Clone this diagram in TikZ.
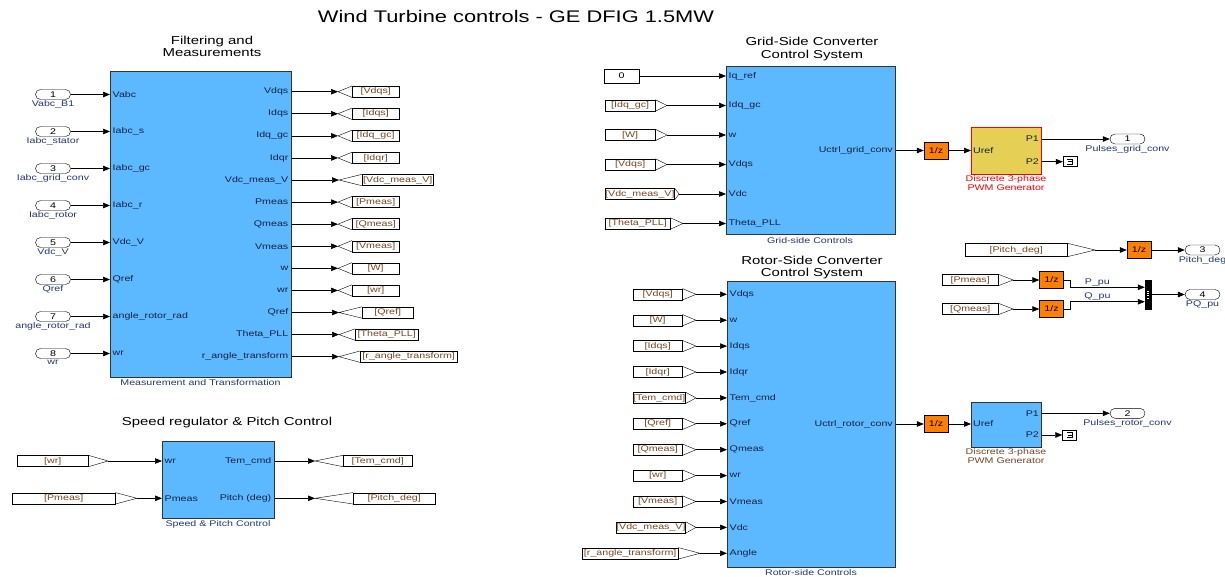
\documentclass[tikz,border=0pt]{standalone}
\usepackage{fontspec}
\newfontfamily\simfont{Liberation Sans}[FakeStretch=1.3]
\usetikzlibrary{arrows.meta,positioning}
\definecolor{simblue}{RGB}{92,184,255}
\definecolor{delayorange}{RGB}{255,128,0}
\definecolor{pwmyellow}{RGB}{229,207,84}
\definecolor{lblblue}{RGB}{35,55,115}
\definecolor{tagbrown}{RGB}{120,70,35}
\newcommand\sigfont{\simfont\fontsize{8.2}{9}\selectfont}
\newcommand\headfont{\simfont\fontsize{11.5}{12.5}\selectfont}

\tikzset{
  blk/.style={draw=black!80, fill=simblue, line width=0.8pt, anchor=north west, inner sep=0pt},
  sig/.style={-{Triangle[length=7pt,width=5.5pt]}, line width=0.65pt},
  inport/.style={draw, rounded corners=5pt, minimum width=35, minimum height=10, inner sep=0pt, font=\sigfont},
  portlbl/.style={inner sep=0pt, font=\sigfont, text=lblblue},
  portname/.style={inner sep=0pt, font=\sigfont, text=lblblue!60!black},
  tagbox/.style={draw, minimum height=11, inner sep=0pt, font=\sigfont, text=tagbrown},
  delay/.style={draw, fill=delayorange, minimum width=24, minimum height=17, inner sep=0pt, font=\sigfont},
  termbox/.style={draw, fill=white, minimum width=14, minimum height=10, inner sep=0pt,
    path picture={\draw[line width=0.5pt, shift={(path picture bounding box.center)}]
      (-3pt,2.5pt) -- (2.5pt,2.5pt) -- (2.5pt,-2.5pt) -- (-3pt,-2.5pt) (-2pt,0pt) -- (2.5pt,0pt);}},
  muxbar/.style={draw, fill=black, minimum width=6, minimum height=29, inner sep=0pt,
    path picture={\draw[white, line width=2pt, dash pattern=on 0.8pt off 1.6pt]
      ([yshift=-4pt]path picture bounding box.center) -- ([yshift=4pt]path picture bounding box.center);}},
  head/.style={align=center, font=\headfont},
}

\begin{document}
\begin{tikzpicture}[x=1pt, y=-1pt]
  \useasboundingbox (0,0) rectangle (1225,577);
  \clip (0,0) rectangle (1225,577);

  % Title
  \node[font=\simfont\fontsize{16.8}{18}\selectfont] (title) at (516,16) {Wind Turbine controls - GE DFIG 1.5MW};

  % Filtering and measurements
  \node[head] (meastitle) at (212,46.5) {Filtering and\\Measurements};
  \node[blk, minimum width=181, minimum height=306] (meas) at (110,71) {};
  \node[portlbl] (measname) at (200.5,383) {Measurement and Transformation};

  \foreach \lab/\port [count=\k] in {Vabc\_B1/Vabc, Iabc\_stator/Iabc\_s, Iabc\_grid\_conv/Iabc\_gc,
      Iabc\_rotor/Iabc\_r, Vdc\_V/Vdc\_V, Qref/Qref, angle\_rotor\_rad/angle\_rotor\_rad, wr/wr}{
    \pgfmathsetmacro\yy{94.5+37*(\k-1)}
    \node[inport] (min\k) at (53,\yy) {\k};
    \node[portlbl, below=1pt of min\k] {\lab};
    \node[portname, anchor=west] at (112.5,\yy) {\port};
    \draw[sig] (min\k) -- (min\k -| meas.west);
  }

  \foreach \port/\tg/\tip/\rl/\rr [count=\k] in {Vdqs/Vdqs/338/352/399, Idqs/Idqs/338/352/399,
      Idq\_gc/Idq\_gc/338/352/399, Idqr/Idqr/338/352/399, Vdc\_meas\_V/Vdc\_meas\_V/339/362/433,
      Pmeas/Pmeas/338/352/399, Qmeas/Qmeas/338/352/399, Vmeas/Vmeas/338/352/399, w/W/338/352/399,
      wr/wr/338/352/399, Qref/Qref/339/362/413, Theta\_PLL/Theta\_PLL/339/355/418,
      r\_angle\_transform/r\_angle\_transform/339/360/457}{
    \pgfmathsetmacro\yy{91.7+22.08*(\k-1)}
    \node[portname, anchor=east] (mo\k) at (288.5,\yy) {\port};
    \coordinate (mt\k) at (\tip,\yy);
    \node[tagbox, minimum width={\rr-\rl}, anchor=west] (mg\k) at (\rl,\yy) {[\tg]};
    \draw (mg\k.north west) -- (mt\k) -- (mg\k.south west);
    \draw[sig] (mt\k -| meas.east) -- (mt\k);
  }

  % Speed regulator
  \node[head] (spdtitle) at (227,423) {Speed regulator \& Pitch Control};
  \node[blk, minimum width=112, minimum height=77] (spd) at (162,441) {};
  \node[portlbl] (spdname) at (218,524) {Speed \& Pitch Control};
  \node[portname, anchor=west] at (164.5,461) {wr};
  \node[portname, anchor=west] at (164.5,498.3) {Pmeas};
  \node[portname, anchor=east] at (271.5,461) {Tem\_cmd};
  \node[portname, anchor=east] at (271.5,498.3) {Pitch (deg)};

  \node[tagbox, minimum width=71, anchor=west] (wrf) at (17,461) {[wr]};
  \coordinate (wrp) at (108,461);
  \draw (wrf.north east) -- (wrp) -- (wrf.south east);
  \draw[sig] (wrp) -- (wrp -| spd.west);
  \node[tagbox, minimum width=103, anchor=west] (pmsf) at (12,498.3) {[Pmeas]};
  \coordinate (pmsp) at (137,498.3);
  \draw (pmsf.north east) -- (pmsp) -- (pmsf.south east);
  \draw[sig] (pmsp) -- (pmsp -| spd.west);

  \coordinate (tct) at (315,461);
  \node[tagbox, minimum width=69, anchor=west] (tcg) at (343,461) {[Tem\_cmd]};
  \draw (tcg.north west) -- (tct) -- (tcg.south west);
  \draw[sig] (tct -| spd.east) -- (tct);
  \coordinate (pdt) at (315,498.3);
  \node[tagbox, minimum width=82, anchor=west] (pdg) at (353,498.3) {[Pitch\_deg]};
  \draw (pdg.north west) -- (pdt) -- (pdg.south west);
  \draw[sig] (pdt -| spd.east) -- (pdt);

  % Grid-side converter
  \node[head] (gridtitle) at (812,49) {Grid-Side Converter\\Control System};
  \node[blk, minimum width=169, minimum height=168] (grid) at (726,66) {};
  \node[portlbl] (gridname) at (810,241) {Grid-side Controls};
  \foreach \port [count=\k] in {Iq\_ref, Idq\_gc, w, Vdqs, Vdc, Theta\_PLL}{
    \pgfmathsetmacro\yy{76+29.5*(\k-1)}
    \node[portname, anchor=west] (gi\k) at (728.5,\yy) {\port};
  }
  \node[draw, minimum width=35, minimum height=14, inner sep=0pt, font=\sigfont] (zero) at (621.5,76) {0};
  \draw[sig] (zero) -- (zero -| grid.west);
  \foreach \tg/\rl/\rr/\tip [count=\k from 2] in {Idq\_gc/605/655/667, W/605/655/667, Vdqs/605/655/667,
      Vdc\_meas\_V/605/674/679, Theta\_PLL/605/670/683}{
    \pgfmathsetmacro\yy{76+29.5*(\k-1)}
    \node[tagbox, minimum width={\rr-\rl}, anchor=west] (gf\k) at (\rl,\yy) {[\tg]};
    \coordinate (gp\k) at (\tip,\yy);
    \draw (gf\k.north east) -- (gp\k) -- (gf\k.south east);
    \draw[sig] (gp\k) -- (gp\k -| grid.west);
  }
  \node[portname, anchor=east] (gu) at (893,150.5) {Uctrl\_grid\_conv};
  \node[delay] (gz) at (936,150.5) {1/z};
  \draw[sig] (gz -| grid.east) -- (gz);

  \node[blk, fill=pwmyellow, draw=red, minimum width=70, minimum height=47] (pwm1) at (971,127) {};
  \node[portname, anchor=west] at (973,150.5) {Uref};
  \node[portname, anchor=east] at (1039,139) {P1};
  \node[portname, anchor=east] at (1039,161.7) {P2};
  \node[portlbl, text=red, align=center] (pwm1name) at (1006,183.5) {Discrete 3-phase\\PWM Generator};
  \draw[sig] (gz) -- (gz -| pwm1.west);
  \node[inport] (pg) at (1127.5,139) {1};
  \node[portlbl, below=1pt of pg] {Pulses\_grid\_conv};
  \draw[sig] (pg -| pwm1.east) -- (pg);
  \node[termbox] (tg) at (1070,161.7) {};
  \draw[sig] (tg -| pwm1.east) -- (tg);

  % Pitch and PQ outputs
  \node[tagbox, minimum width=102, minimum height=13, anchor=west] (pf) at (965,250) {[Pitch\_deg]};
  \coordinate (pp) at (1095,250);
  \draw (pf.north east) -- (pp) -- (pf.south east);
  \node[delay] (pz) at (1139,250) {1/z};
  \draw[sig] (pp) -- (pz);
  \node[inport] (po) at (1202.5,250) {3};
  \node[portlbl, below=1pt of po] {Pitch\_deg};
  \draw[sig] (pz) -- (po);

  \node[tagbox, minimum width=56, anchor=west] (pmf) at (942,280) {[Pmeas]};
  \coordinate (pmp) at (1013,280);
  \draw (pmf.north east) -- (pmp) -- (pmf.south east);
  \node[delay] (pmz) at (1051.5,280) {1/z};
  \draw[sig] (pmp) -- (pmz);
  \node[tagbox, minimum width=56, anchor=west] (qmf) at (942,309) {[Qmeas]};
  \coordinate (qmp) at (1013,309);
  \draw (qmf.north east) -- (qmp) -- (qmf.south east);
  \node[delay] (qmz) at (1051.5,309) {1/z};
  \draw[sig] (qmp) -- (qmz);

  \node[muxbar] (mux) at (1148,294.5) {};
  \draw[sig] (pmz.east) -- ++(7,0) |- ([yshift=7.25pt]mux.west) node[portlbl, pos=0.68, above=1pt] {P\_pu};
  \draw[sig] (qmz.east) -- ++(7,0) |- ([yshift=-7.25pt]mux.west) node[portlbl, pos=0.68, above=1pt] {Q\_pu};
  \node[inport] (pq) at (1202.5,294.5) {4};
  \node[portlbl, below=1pt of pq] {PQ\_pu};
  \draw[sig] (mux) -- (pq);

  % Rotor-side converter
  \node[head] (rotortitle) at (812,267.5) {Rotor-Side Converter\\Control System};
  \node[blk, minimum width=168, minimum height=286] (rotor) at (727,281) {};
  \node[portlbl] (rotorname) at (811,573) {Rotor-side Controls};
  \foreach \port/\tg/\rl/\rr/\tip [count=\k] in {Vdqs/Vdqs/633/682/696, w/W/633/682/696,
      Idqs/Idqs/633/682/696, Idqr/Idqr/633/682/696, Tem\_cmd/Tem\_cmd/633/684/696,
      Qref/Qref/633/682/696, Qmeas/Qmeas/633/682/696, wr/wr/633/682/696, Vmeas/Vmeas/633/682/696,
      Vdc/Vdc\_meas\_V/616/685/696, Angle/r\_angle\_transform/582/678/700}{
    \pgfmathsetmacro\yy{294.3+25.9*(\k-1)}
    \node[portname, anchor=west] (ri\k) at (729.5,\yy) {\port};
    \node[tagbox, minimum width={\rr-\rl}, anchor=west] (rf\k) at (\rl,\yy) {[\tg]};
    \coordinate (rp\k) at (\tip,\yy);
    \draw (rf\k.north east) -- (rp\k) -- (rf\k.south east);
    \draw[sig] (rp\k) -- (rp\k -| rotor.west);
  }
  \node[portname, anchor=east] (ru) at (893,424) {Uctrl\_rotor\_conv};
  \node[delay] (rz) at (936,424) {1/z};
  \draw[sig] (rz -| rotor.east) -- (rz);

  \node[blk, minimum width=70, minimum height=45] (pwm2) at (971,402) {};
  \node[portname, anchor=west] at (973,424) {Uref};
  \node[portname, anchor=east] at (1039,413.3) {P1};
  \node[portname, anchor=east] at (1039,435) {P2};
  \node[portlbl, text=tagbrown, align=center] (pwm2name) at (1006,456) {Discrete 3-phase\\PWM Generator};
  \draw[sig] (rz) -- (rz -| pwm2.west);
  \node[inport] (pr) at (1127.5,413.3) {2};
  \node[portlbl, below=1pt of pr] {Pulses\_rotor\_conv};
  \draw[sig] (pr -| pwm2.east) -- (pr);
  \node[termbox] (tr) at (1069.5,435) {};
  \draw[sig] (tr -| pwm2.east) -- (tr);
\end{tikzpicture}
\end{document}
